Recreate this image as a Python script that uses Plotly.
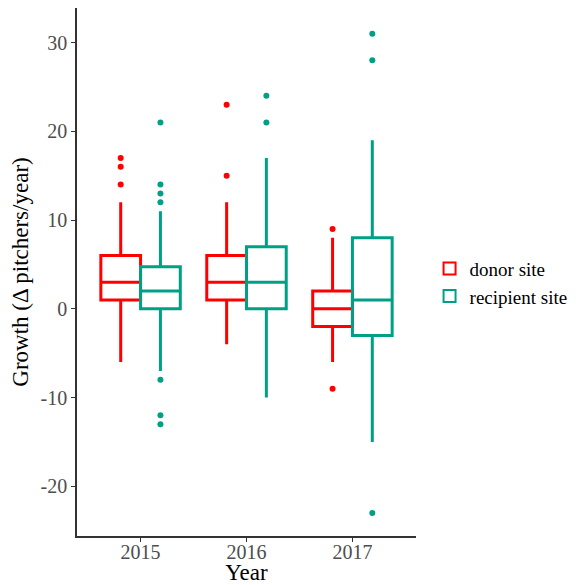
import plotly.graph_objects as go

years = ["2015", "2016", "2017"]
sites = ["donor site", "recipient site"]
colors = {"donor site": "#FF0000", "recipient site": "#00A087"}

# precomputed box statistics per site, per year
q1 = {"donor site": [1, 1, -2], "recipient site": [0, 0, -3]}
median = {"donor site": [3, 3, 0], "recipient site": [2, 3, 1]}
q3 = {"donor site": [6, 6, 2], "recipient site": [4.75, 7, 8]}
lowerfence = {"donor site": [-6, -4, -6], "recipient site": [-7, -10, -15]}
upperfence = {"donor site": [12, 12, 8], "recipient site": [11, 17, 19]}

# outliers
donor_out_year = ["2015", "2015", "2015", "2016", "2016", "2017", "2017"]
donor_out_val = [14, 16, 17, 15, 23, 9, -9]
recip_out_year = ["2015", "2015", "2015", "2015", "2015", "2015", "2015",
                  "2016", "2016", "2017", "2017", "2017"]
recip_out_val = [12, 13, 14, 21, -8, -12, -13, 21, 24, 28, 31, -23]
outliers = {"donor site": (donor_out_year, donor_out_val),
            "recipient site": (recip_out_year, recip_out_val)}

y_tickvals = [-20, -10, 0, 10, 20, 30]
y_ticktext = ["-20", "-10", "0", "10", "20", "30"]

FONT = "Liberation Serif"

fig = go.Figure()
for s in sites:
    fig.add_trace(go.Box(
        x=years, q1=q1[s], median=median[s], q3=q3[s],
        lowerfence=lowerfence[s], upperfence=upperfence[s],
        name=s, offsetgroup=s, legendgroup=s,
        line=dict(color=colors[s], width=3), fillcolor="rgba(255,255,255,0)",
        whiskerwidth=0, boxpoints=False, hoverinfo="skip",
    ))
for s in sites:
    ox, oy = outliers[s]
    fig.add_trace(go.Scatter(
        x=ox, y=oy, mode="markers", offsetgroup=s, legendgroup=s,
        marker=dict(color=colors[s], size=6), showlegend=False, hoverinfo="skip",
    ))

fig.update_layout(
    width=581, height=585,
    margin=dict(l=77, r=165, t=8, b=49, autoexpand=False),
    paper_bgcolor="white", plot_bgcolor="white",
    boxmode="group", boxgap=0.25, boxgroupgap=0,
    scattermode="group", scattergap=0.25,
    font=dict(family=FONT, size=20, color="#4D4D4D"),
    legend=dict(x=1.04, xanchor="left", y=0.48, yanchor="middle",
                font=dict(family=FONT, size=19, color="black"), tracegroupgap=0,
                itemsizing="constant", itemwidth=30, bgcolor="rgba(0,0,0,0)"),
    showlegend=True,
)
fig.update_xaxes(
    type="category", categoryorder="array", categoryarray=years,
    range=[-0.6, 2.6], automargin=False,
    showline=True, linecolor="#333333", linewidth=1.5,
    ticks="outside", ticklen=4, tickcolor="#333333", ticklabelstandoff=-7,
    showgrid=False, zeroline=False,
    title=dict(text="Year", font=dict(family=FONT, size=23, color="black"), standoff=3),
    tickfont=dict(family=FONT, size=20, color="#4D4D4D"),
)
fig.update_yaxes(
    range=[-25.6, 33.9], tickvals=y_tickvals, ticktext=y_ticktext,
    automargin=False,
    showline=True, linecolor="#333333", linewidth=1.5,
    ticks="outside", ticklen=4, tickcolor="#333333",
    showgrid=False, zeroline=False,
    title=dict(text="Growth (Δ pitchers/year)", font=dict(family=FONT, size=23, color="black"), standoff=6),
    tickfont=dict(family=FONT, size=20, color="#4D4D4D"),
)

fig.write_html("out.html", config={"displayModeBar": False},
               post_script="document.body.style.margin='0px';")
